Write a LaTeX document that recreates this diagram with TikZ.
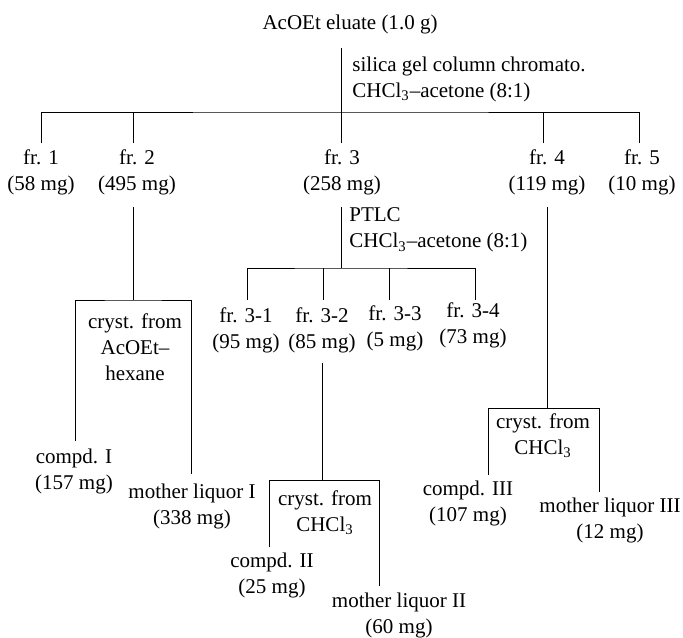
\documentclass[tikz,border=0pt]{standalone}
\usepackage{fontspec}
\setmainfont{Liberation Serif}
\usetikzlibrary{positioning}

\begin{document}
\begin{tikzpicture}[
    x=0.5pt, y=-0.5pt,
    every node/.style={inner sep=0pt, align=center, font=\fontsize{10.5}{13}\selectfont},
    tree/.style={line width=0.5pt},
    note/.style={anchor=west, align=left}
]
\useasboundingbox (0,0) rectangle (683,637);

% Starting material and column
\node (eluate) at (350,24) {AcOEt eluate (1.0 g)};
\node[note] (silica) at (352,79) {silica gel column chromato.\\CHCl\textsubscript{3}--acetone (8:1)};

% Fractions from the column
\node (fr1) at (41,172) {fr. 1\\(58 mg)};
\node (fr2) at (137,172) {fr. 2\\(495 mg)};
\node (fr3) at (342,172) {fr. 3\\(258 mg)};
\node (fr4) at (547,172) {fr. 4\\(119 mg)};
\node (fr5) at (642,172) {fr. 5\\(10 mg)};

% PTLC of fr. 3
\node[note] (ptlctext) at (349,230) {PTLC\\CHCl\textsubscript{3}--acetone (8:1)};
\node (fr31) at (246,330) {fr. 3-1\\(95 mg)};
\node (fr32) at (322,330) {fr. 3-2\\(85 mg)};
\node (fr33) at (395,328) {fr. 3-3\\(5 mg)};
\node (fr34) at (473,325) {fr. 3-4\\(73 mg)};

% Crystallizations
\node (cryst1) at (135,347) {cryst. from\\AcOEt--\\hexane};
\node (compd1) at (74,471) {compd. I\\(157 mg)};
\node (mother1) at (192,506) {mother liquor I\\(338 mg)};

\node (cryst2) at (325,513) {cryst. from\\CHCl\textsubscript{3}};
\node (compd2) at (272,575) {compd. II\\(25 mg)};
\node (mother2) at (399,615) {mother liquor II\\(60 mg)};

\node (cryst3) at (543,436) {cryst. from\\CHCl\textsubscript{3}};
\node (compd3) at (468,503) {compd. III\\(107 mg)};
\node (mother3) at (610,520) {mother liquor III\\(12 mg)};

% Line ends
\coordinate (eluatefoot) at (341,48);
\coordinate (split) at (341,112);
\coordinate (drop1) at (41,143);
\coordinate (drop2) at (133,143);
\coordinate (drop3) at (341,143);
\coordinate (drop4) at (543,143);
\coordinate (drop5) at (639,143);

\coordinate (fr3foot) at (341,207);
\coordinate (ptlc) at (341,268);
\coordinate (sub1) at (247,300);
\coordinate (sub2) at (323,300);
\coordinate (sub3) at (389,300);
\coordinate (sub4) at (475,300);

\coordinate (fr2foot) at (133,207);
\coordinate (box1) at (133,300);
\coordinate (end1a) at (75,441);
\coordinate (end1b) at (191,474);

\coordinate (fr32foot) at (322,363);
\coordinate (box2) at (322,480);
\coordinate (end2a) at (269,547);
\coordinate (end2b) at (379,586);

\coordinate (fr4foot) at (547,207);
\coordinate (box3) at (547,408);
\coordinate (end3a) at (488,475);
\coordinate (end3b) at (599,492);

% Column split
\draw[tree] (eluatefoot) -- (split);
\draw[tree] (drop1) |- (split) -| (drop5);
\foreach \d in {drop2, drop3, drop4}
    \draw[tree] (\d) -- (\d |- split);

% PTLC split
\draw[tree] (fr3foot) -- (ptlc);
\draw[tree] (sub1) |- (ptlc) -| (sub4);
\foreach \d in {sub2, sub3}
    \draw[tree] (\d) -- (\d |- ptlc);

% Crystallization brackets
\draw[tree] (fr2foot) -- (box1);
\draw[tree] (end1a) |- (box1) -| (end1b);
\draw[tree] (fr32foot) -- (box2);
\draw[tree] (end2a) |- (box2) -| (end2b);
\draw[tree] (fr4foot) -- (box3);
\draw[tree] (end3a) |- (box3) -| (end3b);

\end{tikzpicture}
\end{document}
